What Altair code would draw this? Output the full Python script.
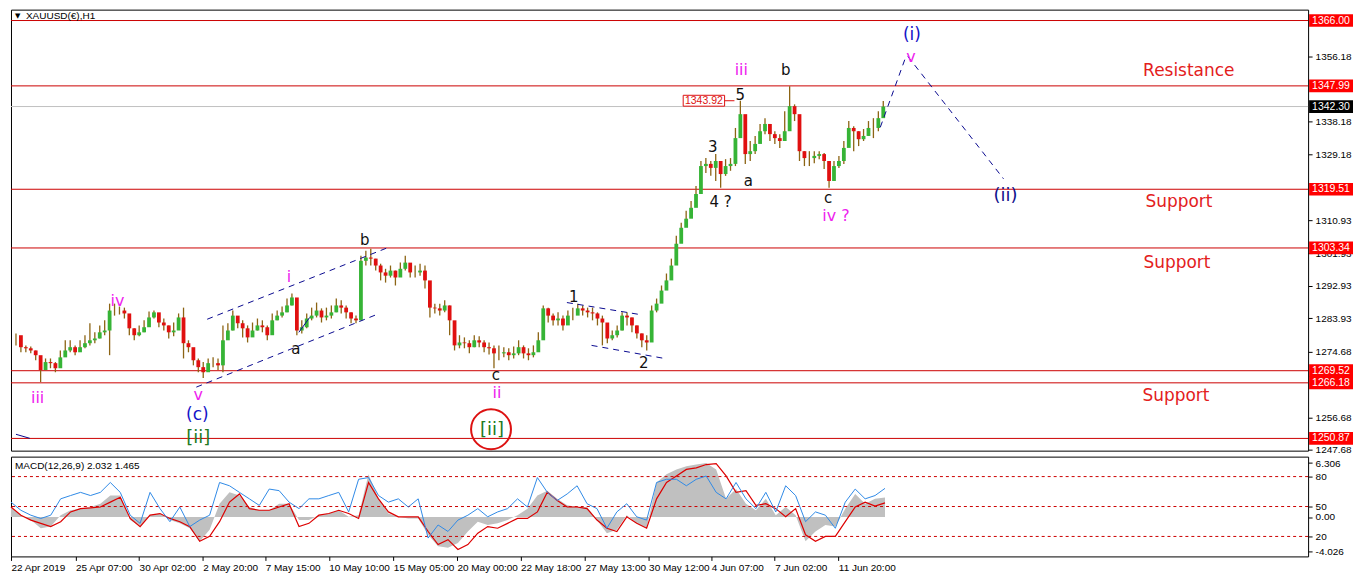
import altair as alt
import pandas as pd

# ---------------- price data (H1 bars, every 5th bar) ----------------
bar = list(range(0, 881, 5))
close = [
    1279.3, 1276.0, 1275.7, 1275.1, 1273.8, 1269.7, 1271.9, 1271.6, 1270.2, 1273.2,
    1275.1, 1276.0, 1274.6, 1276.0, 1277.1, 1277.9, 1278.4, 1280.1, 1280.6, 1286.1,
    1286.1, 1286.1, 1285.3, 1281.2, 1279.3, 1280.1, 1281.5, 1284.2, 1285.6, 1282.8,
    1282.0, 1280.1, 1280.6, 1284.2, 1277.1, 1276.0, 1272.4, 1270.5, 1269.1, 1271.6,
    1271.6, 1271.0, 1277.9, 1280.6, 1284.7, 1282.6, 1281.2, 1278.7, 1280.6, 1282.0,
    1281.5, 1279.3, 1283.4, 1284.7, 1285.6, 1287.5, 1289.7, 1280.6, 1281.5, 1283.9,
    1284.7, 1286.1, 1284.2, 1284.7, 1285.6, 1287.5, 1286.9, 1285.6, 1283.9, 1283.4,
    1299.8, 1300.7, 1300.4, 1298.5, 1296.6, 1295.7, 1297.1, 1295.2, 1297.6, 1299.3,
    1296.6, 1296.6, 1297.1, 1294.4, 1286.9, 1286.7, 1286.1, 1287.5, 1283.4, 1276.5,
    1277.3, 1277.1, 1276.0, 1277.9, 1277.3, 1276.0, 1275.7, 1274.3, 1274.3, 1274.6,
    1273.8, 1274.3, 1276.0, 1274.3, 1273.8, 1274.6, 1277.9, 1286.7, 1284.7, 1283.4,
    1283.9, 1282.0, 1284.7, 1284.7, 1286.7, 1286.1, 1285.6, 1285.3, 1283.9, 1282.8,
    1278.4, 1279.3, 1280.6, 1284.7, 1284.2, 1282.0, 1279.8, 1277.9, 1277.3, 1286.1,
    1288.0, 1291.6, 1294.4, 1298.5, 1304.5, 1308.9, 1311.4, 1314.4, 1318.2, 1325.9,
    1326.5, 1325.4, 1327.3, 1323.7, 1325.9, 1326.5, 1333.6, 1340.2, 1329.2, 1330.0,
    1332.0, 1335.5, 1337.5, 1334.7, 1333.6, 1332.8, 1335.5, 1342.4, 1340.2, 1330.0,
    1328.1, 1328.1, 1328.7, 1329.2, 1327.3, 1321.8, 1325.9, 1327.3, 1330.9, 1336.4,
    1335.5, 1333.3, 1334.2, 1336.4, 1336.4, 1339.1, 1342.3,
]
high = [
    1279.8, 1277.1, 1276.5, 1276.2, 1275.1, 1272.4, 1272.9, 1272.9, 1271.9, 1275.1,
    1277.9, 1277.9, 1276.5, 1277.9, 1279.3, 1282.6, 1280.1, 1282.0, 1283.4, 1288.0,
    1288.0, 1287.2, 1286.9, 1283.9, 1281.2, 1282.0, 1283.4, 1285.8, 1286.1, 1284.7,
    1283.9, 1282.0, 1282.8, 1285.3, 1286.9, 1277.9, 1274.6, 1272.9, 1271.9, 1272.9,
    1273.2, 1272.9, 1282.0, 1282.6, 1286.1, 1284.2, 1283.4, 1282.0, 1282.8, 1283.9,
    1283.4, 1282.0, 1285.3, 1286.1, 1287.2, 1289.4, 1290.8, 1286.1, 1283.4, 1285.3,
    1286.9, 1288.3, 1286.7, 1286.9, 1287.5, 1289.4, 1288.9, 1287.5, 1285.6, 1284.7,
    1301.2, 1302.6, 1303.1, 1300.4, 1299.0, 1297.6, 1298.5, 1297.1, 1299.3, 1301.2,
    1299.0, 1298.5, 1299.0, 1298.5, 1293.0, 1288.0, 1288.0, 1288.9, 1287.5, 1280.6,
    1279.3, 1278.7, 1277.9, 1279.3, 1279.0, 1277.9, 1277.3, 1276.5, 1276.5, 1276.0,
    1275.7, 1276.2, 1277.9, 1276.5, 1275.7, 1276.5, 1280.1, 1287.5, 1286.9, 1285.3,
    1285.6, 1284.7, 1286.1, 1286.9, 1288.0, 1287.5, 1286.9, 1286.9, 1285.6, 1284.7,
    1280.6, 1280.6, 1282.0, 1285.6, 1285.6, 1284.2, 1282.0, 1279.8, 1279.3, 1287.5,
    1289.4, 1293.0, 1296.3, 1300.4, 1306.7, 1310.3, 1313.6, 1316.3, 1320.4, 1327.3,
    1328.1, 1327.3, 1329.2, 1325.9, 1327.8, 1328.1, 1336.4, 1343.9, 1335.5, 1332.8,
    1334.2, 1337.5, 1339.1, 1336.9, 1335.5, 1334.7, 1341.0, 1347.9, 1342.9, 1338.3,
    1330.0, 1330.0, 1330.0, 1330.0, 1329.5, 1325.9, 1327.3, 1328.7, 1332.8, 1338.3,
    1336.9, 1335.5, 1336.1, 1338.3, 1339.1, 1341.0, 1343.8,
]
low = [
    1276.5, 1274.6, 1274.6, 1274.3, 1272.4, 1266.4, 1269.7, 1270.2, 1269.1, 1271.0,
    1273.8, 1274.6, 1273.8, 1275.1, 1275.7, 1276.5, 1277.1, 1278.4, 1279.3, 1273.8,
    1284.7, 1285.0, 1283.9, 1279.3, 1277.9, 1279.0, 1280.1, 1282.8, 1283.9, 1281.5,
    1280.6, 1278.4, 1279.0, 1282.0, 1272.9, 1274.6, 1271.0, 1269.1, 1267.5, 1270.2,
    1270.5, 1269.7, 1269.1, 1278.4, 1280.6, 1281.2, 1278.7, 1277.3, 1279.3, 1280.6,
    1280.1, 1277.9, 1281.2, 1283.4, 1284.2, 1285.6, 1287.5, 1279.3, 1279.8, 1281.2,
    1283.4, 1284.2, 1282.8, 1283.4, 1283.9, 1285.6, 1285.3, 1283.9, 1282.6, 1282.6,
    1283.4, 1298.5, 1298.5, 1297.1, 1294.4, 1293.8, 1295.2, 1293.0, 1295.7, 1297.1,
    1295.2, 1295.2, 1295.7, 1292.2, 1284.2, 1285.3, 1284.7, 1285.6, 1279.3, 1275.1,
    1275.7, 1275.7, 1274.3, 1276.0, 1276.0, 1274.6, 1274.0, 1270.2, 1272.4, 1273.2,
    1272.4, 1272.9, 1273.8, 1272.9, 1272.4, 1273.2, 1275.1, 1280.6, 1282.8, 1282.0,
    1282.0, 1280.6, 1282.8, 1283.4, 1285.3, 1284.7, 1284.2, 1283.4, 1282.0, 1276.5,
    1277.1, 1277.9, 1278.7, 1280.6, 1282.0, 1280.1, 1278.4, 1276.0, 1275.1, 1277.9,
    1285.6, 1289.7, 1292.4, 1296.3, 1301.2, 1306.2, 1309.5, 1312.2, 1316.3, 1320.4,
    1324.0, 1323.2, 1321.8, 1319.9, 1323.2, 1324.6, 1325.9, 1335.5, 1326.5, 1327.3,
    1329.2, 1332.8, 1334.7, 1332.8, 1332.0, 1330.9, 1333.3, 1339.6, 1338.3, 1327.3,
    1325.9, 1325.9, 1326.7, 1327.8, 1325.1, 1319.9, 1321.8, 1325.4, 1326.5, 1334.2,
    1330.0, 1331.4, 1332.8, 1334.2, 1333.6, 1335.5, 1340.5,
]

# ---------------- MACD window data (every 10th bar) ----------------
macd_bar = list(range(0, 881, 10))
macd_main = [
    1.04, 0.19, -0.32, -1.17, -1.00, 0.19, 0.70, 0.87, 1.04, 1.38,
    2.23, 2.23, -0.32, -1.00, 0.19, 0.36, -0.32, -0.66, -1.17, -2.53,
    -1.34, 1.38, 2.57, 2.23, 1.04, 0.70, 0.70, 1.38, 1.38, -0.32,
    -0.32, 0.19, 0.36, 0.70, 0.02, 0.19, 4.44, 1.89, 0.36, 0.02,
    -0.15, -0.15, -1.85, -3.04, -3.21, -2.70, -1.51, -0.49, -0.83, -0.66,
    -0.32, 0.19, 0.87, 2.23, 2.74, 1.89, 1.21, 1.04, 1.04, -0.32,
    -1.68, -1.34, 0.19, -0.66, -1.17, 3.59, 4.44, 4.95, 5.29, 5.46,
    5.63, 4.95, 1.89, 2.91, 1.38, 0.70, 1.89, 0.19, 1.04, 0.19,
    -2.53, -1.51, -0.83, -1.00, 0.87, 2.40, 1.38, 1.89, 2.03,
]
macd_signal = [
    1.04, 0.19, -0.32, -0.66, -1.00, -0.49, 0.53, 0.87, 0.94, 1.04,
    1.55, 2.06, -0.15, -1.00, 0.19, 0.36, -0.15, -0.49, -1.00, -2.53,
    -2.02, -0.49, 1.55, 2.40, 0.87, 0.70, 0.70, 1.04, 1.38, -1.00,
    -0.66, 0.19, 0.36, 0.70, 0.36, -0.15, 3.59, 1.89, 0.53, 0.02,
    0.02, 0.02, -1.51, -2.87, -2.36, -3.38, -2.87, -1.68, -1.00, -1.17,
    -0.66, -0.15, -0.15, 0.53, 2.57, 1.72, 1.04, 1.04, 0.87, -0.32,
    -1.17, -1.51, 0.02, -0.66, -1.17, 1.89, 3.59, 4.27, 4.95, 5.12,
    5.46, 5.56, 4.27, 2.57, 2.74, 1.21, 1.38, 0.87, 0.02, 0.87,
    -1.85, -2.53, -2.02, -2.02, -0.49, 1.04, 1.55, 1.14, 1.47,
]
osc = [
    54.4, 46.2, 41.3, 38.0, 41.3, 57.7, 61.0, 64.2, 61.0, 64.2,
    74.1, 64.2, 41.3, 33.1, 64.2, 47.9, 34.8, 49.5, 29.9, 36.4,
    41.3, 74.1, 70.8, 64.2, 57.7, 51.1, 67.5, 65.9, 54.4, 47.9,
    57.7, 57.7, 61.0, 64.2, 44.6, 77.3, 79.0, 61.0, 54.4, 57.7,
    49.5, 57.7, 18.4, 31.5, 25.0, 36.4, 41.3, 47.9, 39.7, 44.6,
    47.9, 57.7, 49.5, 79.0, 64.2, 56.1, 62.6, 70.8, 52.8, 47.9,
    28.2, 44.6, 52.8, 39.7, 36.4, 74.1, 77.3, 77.3, 70.8, 77.3,
    80.6, 64.2, 57.7, 74.1, 57.7, 47.9, 64.2, 44.6, 70.8, 61.0,
    34.8, 44.6, 41.3, 28.2, 54.4, 67.5, 57.7, 61.0, 68.2,
]
osc_levels = [80, 50, 20]

# ---------------- levels, ticks, labels ----------------
levels = [1366.00, 1347.99, 1319.51, 1303.34, 1269.52, 1266.18, 1250.87]
last_price = 1342.30
price_ticks = [1356.18, 1338.18, 1329.18, 1310.93, 1301.93, 1292.93,
               1283.93, 1274.68, 1256.68, 1247.68]
date_ticks = [0, 65, 129, 193, 256, 320, 385, 449, 513, 578, 642, 705, 769, 833]
date_labels = ["22 Apr 2019", "25 Apr 07:00", "30 Apr 02:00", "2 May 20:00",
               "7 May 15:00", "10 May 10:00", "15 May 05:00", "20 May 00:00",
               "22 May 18:00", "27 May 13:00", "30 May 12:00", "4 Jun 07:00",
               "7 Jun 02:00", "11 Jun 20:00"]
macd_ticks = [93.5, 80, 50, 39.5, 20, 5]
macd_tick_labels = ["6.306", "80", "50", "0.00", "20", "-4.026"]

# wave labels
ann_text = ["iii", "iv", "v", "(c)", "[ii]", "i", "a", "b", "c", "ii", "[ii]",
            "1", "2", "3", "4 ?", "a", "5", "iii", "b", "c", "iv ?",
            "(i)", "v", "(ii)", "Resistance", "Support", "Support", "Support"]
ann_bar = [22, 103, 185, 184, 185, 277, 284, 354, 487, 488, 483,
           566, 637, 707, 715, 743, 735, 736, 781, 824, 832,
           909, 908, 1004, 1190, 1180, 1178, 1177]
ann_price = [1261.9, 1288.8, 1262.9, 1257.2, 1251.1, 1295.4, 1275.4, 1305.6, 1268.3, 1263.3, 1253.2,
             1289.7, 1271.6, 1331.1, 1316.0, 1321.8, 1345.4, 1352.3, 1352.3, 1317.1, 1312.2,
             1362.0, 1356.0, 1317.7, 1352.0, 1316.0, 1299.3, 1262.5]
MAG, BLU, NAV, GRN, BLK, RED = "#ee22ee", "#1414c8", "#10108c", "#237a23", "#111111", "#e3201c"
ann_kind = ["m", "m", "m", "B", "G", "m", "k", "k", "k", "m", "G",
            "k", "k", "k", "k", "k", "k", "m", "k", "k", "m",
            "B", "m", "N", "R", "R", "R", "R"]

# drawn trend lines (bar, price) -> (bar, price)
seg_x1 = [194, 183, 559, 584, 877, 905]
seg_p1 = [1283.7, 1265.0, 1288.3, 1276.5, 1336.6, 1356.1]
seg_x2 = [377, 366, 633, 658, 903, 1002]
seg_p2 = [1303.4, 1285.0, 1285.0, 1272.9, 1356.1, 1322.4]
solid_x1 = [287, 0]
solid_p1 = [1280.1, 1252.0]
solid_x2 = [298, 14]
solid_p2 = [1284.2, 1250.9]

# ---------------- layout ----------------
W, H1, H2 = 1300, 442, 100
XDOM = [0, 1306]
PDOM = [1247.5, 1369.0]
FONT = "Liberation Sans"

xs = alt.Scale(domain=XDOM, nice=False, zero=False)
ys = alt.Scale(domain=PDOM, nice=False, zero=False)

yaxis = alt.Axis(orient="right", values=price_ticks, format=".2f", title=None, grid=False,
                 labelFont=FONT, labelFontSize=10, labelColor="#000", tickColor="#000",
                 tickSize=4, domain=False, labelPadding=3, labelOverlap=False, labelFlush=False)


def X(f):
    return alt.X(f, type="quantitative", scale=xs, axis=None)


def Y(f):
    return alt.Y(f, type="quantitative", scale=ys, axis=yaxis)


df = pd.DataFrame({"bar": bar, "close": close, "high": high, "low": low})
df["open"] = [close[0]] + close[:-1]
df["dir"] = ["up" if c >= o else "down" for c, o in zip(df["close"], df["open"])]

lev_df = pd.DataFrame({"price": levels})
rules = alt.Chart(lev_df).mark_rule(color="#cc0000", strokeWidth=1).encode(y=Y("price"))
cur = alt.Chart(pd.DataFrame({"price": [last_price]})).mark_rule(
    color="#c0c0c0", strokeWidth=1).encode(y=Y("price"))

wick = alt.Chart(df).mark_rule(color="#8c6414", strokeWidth=1.3).encode(
    x=X("bar"), y=Y("low"), y2="high")
body = alt.Chart(df).mark_bar(width=3.8).encode(
    x=X("bar"), y=Y("open"), y2="close",
    color=alt.Color("dir:N", scale=alt.Scale(domain=["up", "down"], range=["#36b436", "#e01010"]),
                    legend=None))

seg_df = pd.DataFrame({"x1": seg_x1, "p1": seg_p1, "x2": seg_x2, "p2": seg_p2})
segs = alt.Chart(seg_df).mark_rule(color="#0a0a90", strokeWidth=1, strokeDash=[6, 5]).encode(
    x=X("x1"), x2="x2", y=Y("p1"), y2="p2")
sol_df = pd.DataFrame({"x1": solid_x1, "p1": solid_p1, "x2": solid_x2, "p2": solid_p2})
sols = alt.Chart(sol_df).mark_rule(color="#0a0a90", strokeWidth=1).encode(
    x=X("x1"), x2="x2", y=Y("p1"), y2="p2")

kind_color = {"m": MAG, "B": BLU, "N": NAV, "G": GRN, "k": BLK, "R": RED}
kind_size = {"m": 16, "B": 17, "N": 18, "G": 18, "k": 15, "R": 17}
ann_df = pd.DataFrame({"t": ann_text, "bar": ann_bar, "price": ann_price,
                       "c": [kind_color[k] for k in ann_kind],
                       "s": [kind_size[k] for k in ann_kind]})
texts = alt.Chart(ann_df).mark_text(font="DejaVu Sans", baseline="middle", align="center").encode(
    x=X("bar"), y=Y("price"), text="t:N",
    color=alt.Color("c:N", scale=None), size=alt.Size("s:Q", scale=None))

circle = alt.Chart(pd.DataFrame({"bar": [482], "price": [1253.4]})).mark_point(
    shape="circle", size=1600, filled=False, color="#dd1111", strokeWidth=2, opacity=1).encode(
    x=X("bar"), y=Y("price"))

# price tag 1343.92
tag_rect = alt.Chart(pd.DataFrame({"x1": [677], "x2": [719], "p1": [1342.4], "p2": [1345.4]})).mark_rect(
    fill="white", stroke="#dd1111", strokeWidth=1).encode(x=X("x1"), x2="x2", y=Y("p1"), y2="p2")
tag_text = alt.Chart(pd.DataFrame({"bar": [698], "price": [1343.9], "t": ["1343.92"]})).mark_text(
    font=FONT, fontSize=10.5, color="#dd1111").encode(x=X("bar"), y=Y("price"), text="t:N")
tag_line = alt.Chart(pd.DataFrame({"x1": [719], "x2": [729], "p": [1343.9]})).mark_rule(
    color="#dd1111").encode(x=X("x1"), x2="x2", y=Y("p"))

# right-axis price boxes
box_df = pd.DataFrame({"price": levels + [last_price],
                       "lab": [f"{p:.2f}" for p in levels + [last_price]],
                       "fill": ["#ff0000"] * len(levels) + ["#000000"]})
box_df["lo"] = box_df["price"] - 1.75
box_df["hi"] = box_df["price"] + 1.75
boxes = alt.Chart(box_df).mark_rect().encode(
    x=alt.value(W + 1), x2=alt.value(W + 45), y=Y("lo"), y2="hi",
    color=alt.Color("fill:N", scale=None))
box_txt = alt.Chart(box_df).mark_text(align="left", baseline="middle", font=FONT, fontSize=10.5,
                                      color="white").encode(
    x=alt.value(W + 4), y=Y("price"), text="lab:N")

title = alt.Chart(pd.DataFrame({"t": ["XAUUSD(€),H1"]})).mark_text(
    align="left", baseline="middle", font=FONT, fontSize=10, color="#000").encode(
    x=alt.value(15), y=alt.value(6), text="t:N")
tri = alt.Chart(pd.DataFrame({"t": ["▼"]})).mark_text(
    align="left", baseline="middle", font="DejaVu Sans", fontSize=7, color="#000").encode(
    x=alt.value(4), y=alt.value(6), text="t:N")

main = alt.layer(rules, cur, wick, body, segs, sols, texts, circle, tag_rect, tag_line, tag_text,
                 boxes, box_txt, title, tri).properties(width=W, height=H1)

# ---------------- MACD panel ----------------
mdf = pd.DataFrame({"bar": macd_bar, "main": macd_main, "signal": macd_signal, "osc": osc})
ys2 = alt.Scale(domain=[0, 100], nice=False, zero=False)
m_lab_js = "[" + ",".join(f"'{s}'" for s in macd_tick_labels) + "]"
m_tick_js = "[" + ",".join(str(v) for v in macd_ticks) + "]"
m_axis = alt.Axis(orient="right", values=macd_ticks, title=None, grid=False,
                  labelFont=FONT, labelFontSize=10, labelColor="#000", tickColor="#000",
                  tickSize=4, domain=False, labelPadding=3, labelOverlap=False, labelFlush=False,
                  labelExpr=f"{m_lab_js}[indexof({m_tick_js}, datum.value)]")
labels_js = "[" + ",".join(f"'{s}'" for s in date_labels) + "]"
ticks_js = "[" + ",".join(str(v) for v in date_ticks) + "]"
x_axis = alt.Axis(values=date_ticks, labelExpr=f"{labels_js}[indexof({ticks_js}, datum.value)]",
                  labelAlign="left", labelPadding=2, tickSize=4, domain=False, grid=False,
                  labelFont=FONT, labelFontSize=10, labelColor="#000", tickColor="#000",
                  title=None, labelFlush=False, labelOverlap=False)


def MX(f):
    return alt.X(f, type="quantitative", scale=xs, axis=x_axis)


def MY(f):
    return alt.Y(f, type="quantitative", scale=ys2, axis=m_axis)


mbase = alt.Chart(mdf).transform_calculate(
    um="39.5 + 9.63 * datum.main", us="39.5 + 9.63 * datum.signal", z="39.5")
area = mbase.mark_area(color="#c0c0c0", opacity=1).encode(x=MX("bar"), y=MY("um"), y2="z:Q")
sig = mbase.mark_line(color="#dd0000", strokeWidth=1.2).encode(x=MX("bar"), y=MY("us"))
bl = mbase.mark_line(color="#2f8ae6", strokeWidth=1).encode(x=MX("bar"), y=MY("osc"))
lv = alt.Chart(pd.DataFrame({"v": osc_levels})).mark_rule(
    color="#cc0000", strokeDash=[3, 3], strokeWidth=1).encode(y=MY("v"))
mlabel = alt.Chart(pd.DataFrame({"t": ["MACD(12,26,9) 2.032 1.465"]})).mark_text(
    align="left", baseline="middle", font=FONT, fontSize=10, color="#000").encode(
    x=alt.value(4), y=alt.value(9), text="t:N")

macd = alt.layer(area, lv, sig, bl, mlabel).properties(width=W, height=H2)

chart = alt.vconcat(main, macd, spacing=0).properties(
    padding=0, background="white").configure_view(stroke="#000", strokeWidth=1)

chart.save("out.html", embed_options={"renderer": "svg", "actions": False})
